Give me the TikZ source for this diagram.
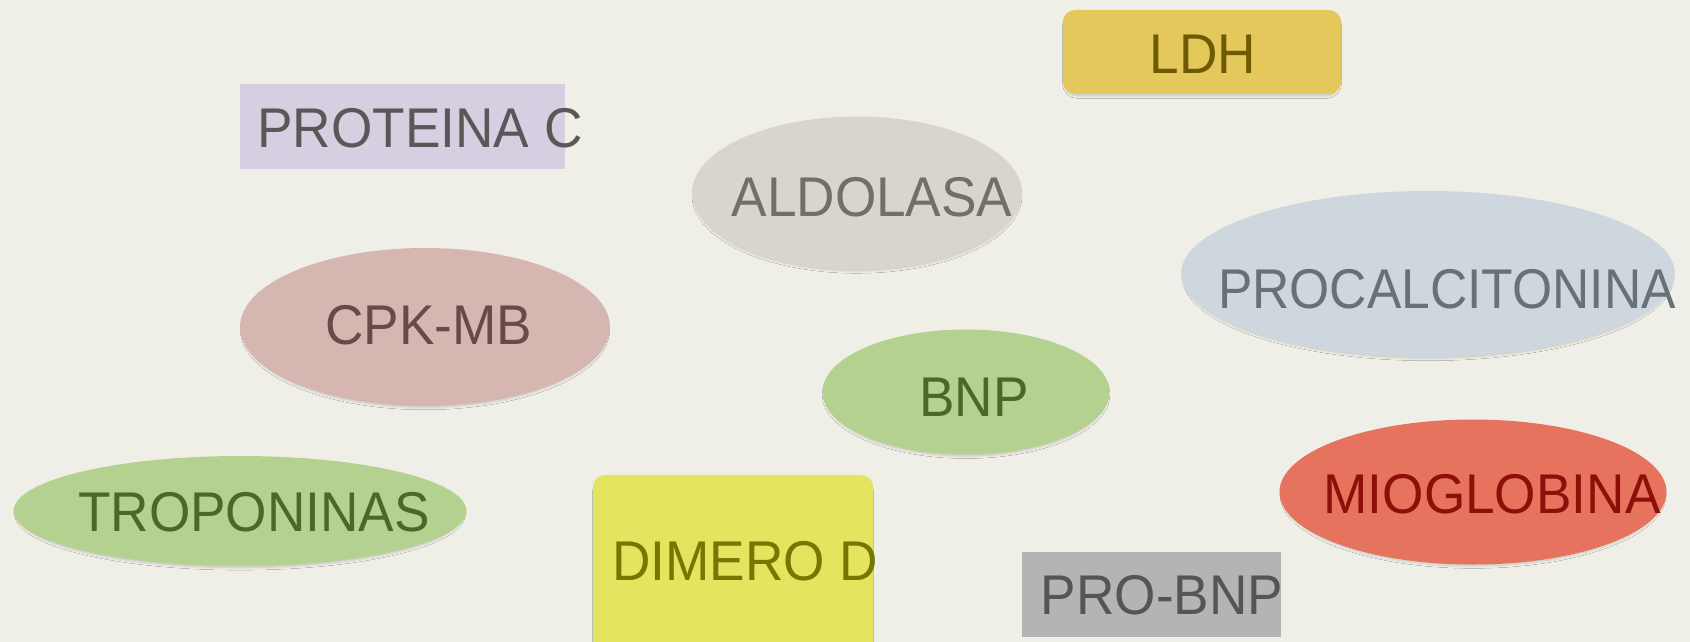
\documentclass[tikz,border=0pt]{standalone}
\usepackage{fontspec}
\newfontfamily\lblfont{Liberation Sans}
\usetikzlibrary{shapes.geometric,shadows.blur}

\definecolor{bgcol}{RGB}{240,239,231}
\definecolor{lavfill}{RGB}{216,206,226}
\definecolor{lavtext}{RGB}{88,88,88}
\definecolor{goldfill}{RGB}{229,200,92}
\definecolor{goldtext}{RGB}{110,90,0}
\definecolor{stonefill}{RGB}{216,214,204}
\definecolor{stonetext}{RGB}{112,112,104}
\definecolor{bluefill}{RGB}{206,214,222}
\definecolor{bluetext}{RGB}{104,112,120}
\definecolor{rosefill}{RGB}{214,182,176}
\definecolor{rosetext}{RGB}{106,74,72}
\definecolor{leaffill}{RGB}{180,209,144}
\definecolor{leaftext}{RGB}{74,104,40}
\definecolor{lemonfill}{RGB}{228,228,94}
\definecolor{lemontext}{RGB}{118,118,0}
\definecolor{greyfill}{RGB}{180,180,180}
\definecolor{greytext}{RGB}{85,85,85}
\definecolor{redfill}{RGB}{229,115,94}
\definecolor{redtext}{RGB}{140,16,8}

\tikzset{
  softshadow/.style={blur shadow={shadow xshift=0pt, shadow yshift=-2.5pt,
      shadow scale=0.985, shadow blur radius=2.5pt, shadow blur steps=5, shadow opacity=18}},
  oval/.style={ellipse, draw=none, inner sep=0pt, softshadow},
  flatbox/.style={rectangle, draw=none, inner sep=0pt},
  roundbox/.style={rectangle, rounded corners=12pt, draw=none, inner sep=0pt, softshadow},
  lbl/.style={inner sep=0pt, xscale=0.95, font=\lblfont\fontsize{56}{62}\selectfont}
}

\begin{document}
\begin{tikzpicture}[x=1pt,y=-1pt]
  \useasboundingbox (0,0) rectangle (1690,642);
  \fill[bgcol] (0,0) rectangle (1690,642);
  \clip (0,0) rectangle (1690,642);

  % shapes
  \node[flatbox, fill=lavfill, minimum width=325pt, minimum height=85pt] (proteina) at (402.5,126.5) {};
  \node[roundbox, fill=goldfill, minimum width=278pt, minimum height=84pt] (ldh) at (1202,52) {};
  \node[oval, fill=stonefill, minimum width=330pt, minimum height=153pt] (aldolasa) at (857,193) {};
  \node[oval, fill=bluefill, minimum width=494pt, minimum height=166pt] (procalc) at (1428,274) {};
  \node[oval, fill=rosefill, minimum width=370pt, minimum height=158pt] (cpk) at (425,327) {};
  \node[oval, fill=leaffill, minimum width=287pt, minimum height=125pt] (bnp) at (966,392) {};
  \node[oval, fill=leaffill, minimum width=453pt, minimum height=110pt] (tropo) at (240,511) {};
  \node[roundbox, fill=lemonfill, minimum width=280pt, minimum height=200pt] (dimero) at (733,575) {};
  \node[flatbox, fill=greyfill, minimum width=259pt, minimum height=85pt] (probnp) at (1151,594) {};
  \node[oval, fill=redfill, minimum width=387pt, minimum height=145pt] (mio) at (1473,492) {};

  % labels
  \node[lbl, text=lavtext] (t-proteina) at (420,128) {PROTEINA C};
  \node[lbl, text=goldtext] (t-ldh) at (1203,54) {LDH};
  \node[lbl, text=stonetext] (t-aldolasa) at (872,197) {ALDOLASA};
  \node[lbl, text=bluetext, xscale=0.97] (t-procalc) at (1447,289) {PROCALCITONINA};
  \node[lbl, text=rosetext] (t-cpk) at (429,325) {CPK-MB};
  \node[lbl, text=leaftext] (t-bnp) at (974,397) {BNP};
  \node[lbl, text=leaftext] (t-tropo) at (254,512) {TROPONINAS};
  \node[lbl, text=lemontext] (t-dimero) at (745,561) {DIMERO D};
  \node[lbl, text=greytext] (t-probnp) at (1162,595) {PRO-BNP};
  \node[lbl, text=redtext] (t-mio) at (1492,494) {MIOGLOBINA};
\end{tikzpicture}
\end{document}
